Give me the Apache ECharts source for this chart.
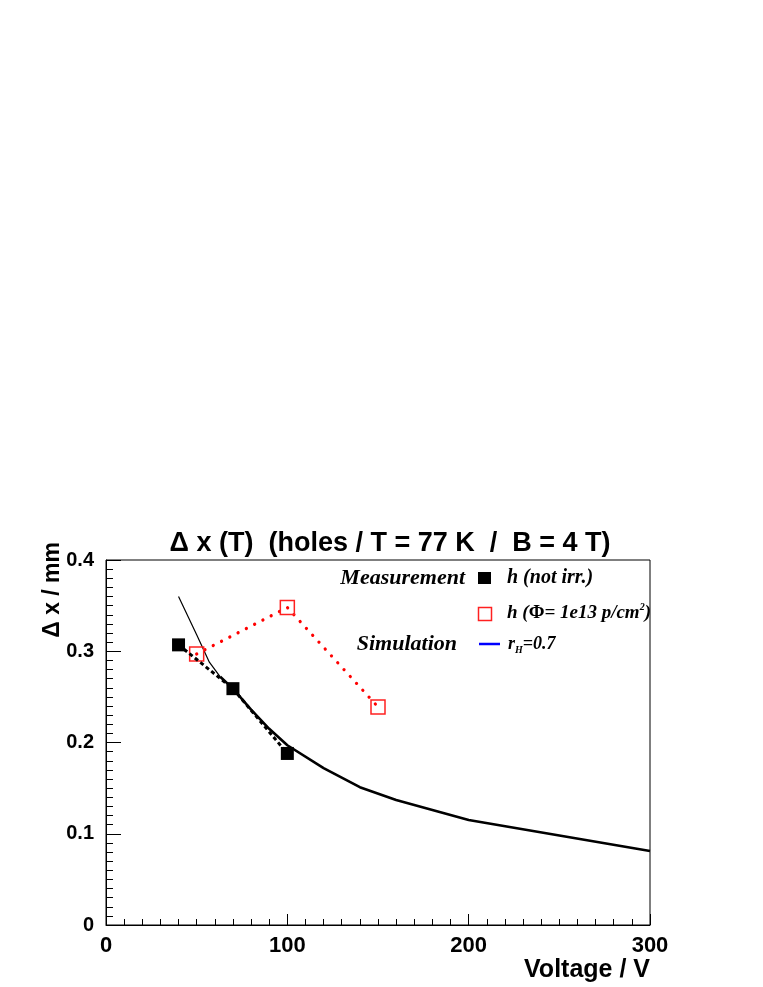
<!DOCTYPE html>
<html><head><meta charset="utf-8">
<script src="https://cdn.jsdelivr.net/npm/echarts@6/dist/echarts.min.js"></script>
<style>html,body{margin:0;padding:0;background:#fff}#c{width:763px;height:987px}</style>
</head><body><div id="c"></div><script>
// Measurement, not irradiated (holes)
const measVoltage = [40, 70, 100];
const measDx = [0.307, 0.259, 0.188];
// Measurement, irradiated Phi = 1e13 p/cm^2
const irrVoltage = [50, 100, 150];
const irrDx = [0.297, 0.348, 0.239];
// Simulation r_H = 0.7 (thin start segment + main curve)
const simThinVoltage = [40, 50, 57, 63];
const simThinDx = [0.360, 0.318, 0.288, 0.272];
const simVoltage = [63, 70, 80, 90, 100, 120, 140, 160, 200, 300];
const simDx = [0.272, 0.259, 0.236, 0.215, 0.197, 0.172, 0.151, 0.137, 0.115, 0.081];
// axes
const xTicks = [0, 100, 200, 300];
const yTicks = [0, 0.1, 0.2, 0.3, 0.4];

const zip = (a, b) => a.map((v, i) => [v, b[i]]);
const sans = '"Liberation Sans", Arial, Helvetica, sans-serif';
const serif = '"Liberation Serif", "Times New Roman", serif';

const chart = echarts.init(document.getElementById('c'), null, {renderer: 'canvas'});
const option = {
  animation: false,
  backgroundColor: '#fff',
  grid: {left: 106, right: 113, top: 560, bottom: 62, show: true, borderColor: '#000', borderWidth: 1, backgroundColor: 'transparent'},
  xAxis: {
    type: 'value', min: xTicks[0], max: xTicks[xTicks.length - 1], interval: xTicks[1] - xTicks[0],
    axisLine: {show: true, onZero: false, lineStyle: {color: '#000', width: 1}},
    axisTick: {show: true, inside: true, length: 11, lineStyle: {color: '#000', width: 1}},
    minorTick: {show: true, splitNumber: 10, length: 6, lineStyle: {color: '#000', width: 1}},
    splitLine: {show: false},
    axisLabel: {color: '#000', fontFamily: sans, fontWeight: 'bold', fontSize: 22, margin: 10, showMinLabel: true, showMaxLabel: true}
  },
  yAxis: {
    type: 'value', min: yTicks[0], max: yTicks[yTicks.length - 1], interval: yTicks[1] - yTicks[0],
    axisLine: {show: true, onZero: false, lineStyle: {color: '#000', width: 1}},
    axisTick: {show: true, inside: true, length: 15, lineStyle: {color: '#000', width: 1}},
    minorTick: {show: true, splitNumber: 10, length: 7, lineStyle: {color: '#000', width: 1}},
    splitLine: {show: false},
    axisLabel: {color: '#000', fontFamily: sans, fontWeight: 'bold', fontSize: 20, margin: 12,
      formatter: v => (v === 0 ? '0' : String(Math.round(v * 10) / 10))}
  },
  series: [
    {type: 'line', data: zip(simThinVoltage, simThinDx), showSymbol: false, symbol: 'none', z: 2,
      lineStyle: {color: '#000', width: 1.2}},
    {type: 'line', data: zip(simVoltage, simDx), showSymbol: false, symbol: 'none', z: 2,
      lineStyle: {color: '#000', width: 2.6}},
    {type: 'line', data: zip(measVoltage, measDx), symbol: 'rect', symbolSize: 13, z: 4,
      itemStyle: {color: '#000', borderWidth: 0},
      lineStyle: {color: '#000', width: 3, type: [4, 3]}},
    {type: 'line', data: zip(irrVoltage, irrDx), symbol: 'rect', symbolSize: 14, z: 3,
      itemStyle: {color: 'none', borderColor: '#ff2020', borderWidth: 1.5},
      lineStyle: {color: '#ff0000', width: 3.2, type: [0.1, 9.2], cap: 'round'}}
  ],
  graphic: [
    {type: 'text', x: 390, y: 544, style: {text: 'Δ x (T)  (holes / T = 77 K  /  B = 4 T)', font: 'bold 27px ' + sans, fill: '#000', align: 'center', verticalAlign: 'middle'}},
    {type: 'text', x: 53, y: 542, rotation: Math.PI / 2, style: {text: 'Δ x / mm', font: 'bold 23px ' + sans, fill: '#000', align: 'right', verticalAlign: 'middle'}},
    {type: 'text', x: 650, y: 970, style: {text: 'Voltage / V', font: 'bold 25px ' + sans, fill: '#000', align: 'right', verticalAlign: 'middle'}},
    // legend
    {type: 'text', x: 465, y: 578, style: {text: 'Measurement', font: 'italic bold 22px ' + serif, fill: '#000', align: 'right', verticalAlign: 'middle'}},
    {type: 'rect', shape: {x: 478, y: 572, width: 13, height: 12}, style: {fill: '#000'}},
    {type: 'text', x: 507, y: 578, style: {text: 'h (not irr.)', font: 'italic bold 20px ' + serif, fill: '#000', align: 'left', verticalAlign: 'middle'}},
    {type: 'rect', shape: {x: 478.5, y: 607.5, width: 13, height: 13}, style: {fill: 'none', stroke: '#ff2020', lineWidth: 1.5}},
    {type: 'text', x: 507, y: 613, style: {
      text: '{a|h (}{b|Φ}{a|= 1e13 p/cm}{s|2}{a|)}', align: 'left', verticalAlign: 'middle',
      rich: {a: {font: 'italic bold 19px ' + serif, fill: '#000', lineHeight: 22, verticalAlign: 'middle'},
             b: {font: 'bold 19px ' + serif, fill: '#000', lineHeight: 22, verticalAlign: 'middle'},
             s: {font: 'italic bold 10px ' + serif, fill: '#000', lineHeight: 22, verticalAlign: 'top', padding: [0, 0, 8, 0]}}}},
    {type: 'text', x: 457, y: 644, style: {text: 'Simulation', font: 'italic bold 22px ' + serif, fill: '#000', align: 'right', verticalAlign: 'middle'}},
    {type: 'line', shape: {x1: 479, y1: 644, x2: 500, y2: 644}, style: {stroke: '#0000ff', lineWidth: 2.5}},
    {type: 'text', x: 508, y: 644, style: {
      text: '{a|r}{s|H}{a|=0.7}', align: 'left', verticalAlign: 'middle',
      rich: {a: {font: 'italic bold 18px ' + serif, fill: '#000', lineHeight: 22, verticalAlign: 'middle'},
             s: {font: 'italic bold 10px ' + serif, fill: '#000', lineHeight: 22, verticalAlign: 'bottom', padding: [7, 0, 0, 0]}}}}
  ]
};
chart.setOption(option);
</script></body></html>
